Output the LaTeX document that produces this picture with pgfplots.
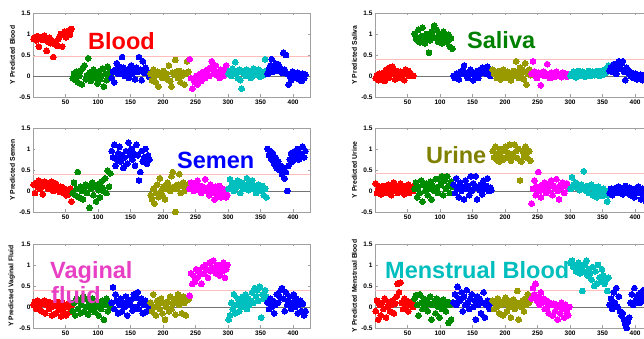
\documentclass[border=0pt]{standalone}
\usepackage{pgfplots}
\pgfplotsset{compat=1.18}
\usepackage{pgfplotstable}
\usepackage{fontspec}
\setmainfont{Liberation Sans}
\definecolor{cR}{RGB}{255,0,0}
\definecolor{cG}{RGB}{0,140,0}
\definecolor{cB}{RGB}{0,0,255}
\definecolor{cO}{RGB}{153,153,0}
\definecolor{cM}{RGB}{255,0,255}
\definecolor{cC}{RGB}{0,191,191}
\definecolor{tG}{RGB}{0,128,0}
\definecolor{tO}{RGB}{128,128,0}
\definecolor{tM}{RGB}{232,64,196}
\definecolor{tC}{RGB}{0,190,190}
\definecolor{thr}{RGB}{255,190,190}
\definecolor{frame}{RGB}{160,160,160}

\pgfplotstableread{
r g b o m c bb
0.88 -0.05 -0.05 0.05 0.40 0.05 0.05
0.92 0.05 0.10 -0.10 -0.05 0.12 0.15
0.85 -0.10 -0.15 0.15 -0.30 0.00 0.25
0.95 0.10 0.15 0.00 -0.10 0.18 0.40
0.70 -0.15 0.30 -0.15 -0.15 0.10 0.10
0.90 0.00 0.05 0.10 0.00 0.33 0.20
0.93 0.12 0.22 -0.25 -0.20 0.05 0.30
0.86 -0.20 0.12 0.02 -0.08 -0.05 0.12
0.96 0.20 0.45 0.08 0.05 0.15 0.28
0.88 0.25 0.20 -0.05 -0.12 -0.10 0.22
0.60 -0.08 0.00 0.12 0.02 -0.30 0.18
0.82 0.02 0.15 0.00 0.10 0.08 0.08
0.91 0.42 0.08 0.05 -0.05 0.12 0.55
0.78 0.08 -0.05 -0.08 0.08 0.00 0.15
0.85 -0.12 0.18 0.25 0.15 0.15 0.50
0.45 -0.02 0.25 -0.12 0.00 0.05 0.05
0.76 0.15 0.05 -0.25 0.20 0.10 -0.20
0.80 -0.05 0.12 0.08 0.35 -0.05 0.00
0.72 0.05 -0.08 0.03 0.05 0.08 -0.10
0.88 -0.18 0.20 0.38 0.12 0.18 0.10
0.95 0.10 0.10 0.10 0.25 0.02 0.05
1.00 -0.08 0.45 -0.05 0.02 0.12 -0.05
0.70 0.00 0.15 0.12 0.10 0.05 0.00
0.98 0.18 -0.10 -0.15 -0.05 0.15 0.08
1.05 -0.25 0.35 0.00 0.15 -0.02 -0.08
0.92 0.05 0.08 0.08 0.08 0.10 0.02
1.02 -0.10 0.20 -0.20 0.00 0.08 -0.12
1.08 0.22 0.12 0.05 0.12 0.02 0.05
0.98 0.08 0.05 0.35 0.25 0.40 -0.05
1.12 0.00 -0.02 0.10 0.05 0.12 0.03
}\tblood

\pgfplotstableread{
r g b o m c bb
-0.05 1.00 0.00 0.15 0.05 0.00 0.12
0.02 0.90 -0.05 0.05 0.35 0.05 0.20
-0.10 0.85 0.05 0.10 0.10 0.10 0.10
0.05 1.10 0.02 -0.05 0.00 0.02 0.28
-0.08 0.80 -0.08 0.00 -0.05 -0.03 0.15
0.00 0.95 0.10 0.12 0.08 0.08 0.05
0.08 1.15 0.05 -0.08 0.02 0.12 0.22
-0.12 0.88 0.12 0.05 -0.22 0.00 0.35
0.15 0.78 0.25 0.15 0.05 0.05 0.18
0.03 1.00 0.08 0.02 0.10 0.10 0.30
-0.05 0.92 0.00 -0.05 0.00 0.03 0.35
0.20 0.55 -0.05 0.10 0.05 -0.02 0.10
0.10 0.85 0.10 0.00 0.28 0.08 -0.10
0.22 1.05 0.15 0.08 0.02 0.05 0.20
0.05 0.95 0.05 -0.10 -0.05 0.12 0.12
-0.08 1.20 -0.10 0.05 0.08 0.00 0.05
0.12 0.90 0.02 0.12 0.00 0.06 0.00
0.00 1.10 0.08 0.00 0.05 0.10 0.08
-0.05 0.82 0.12 0.35 -0.02 0.02 -0.05
0.10 1.00 -0.05 0.10 0.10 0.08 0.02
0.02 0.95 0.05 -0.05 0.03 0.05 0.05
0.08 0.78 0.15 0.20 0.00 0.12 -0.08
-0.10 1.05 0.20 0.05 0.06 0.00 0.00
0.15 0.88 0.10 0.15 -0.03 0.07 -0.05
0.05 0.92 0.18 -0.08 0.08 0.10 0.03
0.12 0.80 0.05 0.30 0.02 0.03 -0.10
0.00 0.98 0.22 -0.20 0.05 0.15 0.00
0.05 0.70 0.12 0.05 -0.02 0.08 0.02
0.02 0.90 0.00 0.15 0.04 0.12 -0.05
0.00 0.65 0.08 0.02 0.00 0.25 0.00
}\tsaliva

\pgfplotstableread{
r g b o m c bb
0.15 -0.05 0.95 -0.10 0.05 0.05 1.00
-0.05 0.20 0.80 -0.20 0.20 0.28 0.85
0.20 -0.10 1.10 0.05 0.10 0.10 0.95
0.10 0.05 0.60 -0.30 0.00 0.20 0.75
0.25 0.45 0.75 -0.05 0.15 0.00 0.90
0.05 -0.15 0.90 0.15 0.08 0.15 0.65
0.18 0.10 1.05 -0.15 0.25 0.08 0.80
-0.08 0.00 0.70 0.30 0.02 0.25 0.55
0.22 -0.20 0.85 0.00 0.12 0.12 0.70
0.12 0.08 0.55 -0.10 -0.05 -0.05 0.50
0.20 0.15 0.80 0.10 0.10 0.20 0.60
0.05 -0.05 0.95 -0.20 0.05 0.05 0.40
0.15 0.12 0.65 0.05 0.28 0.15 0.55
0.10 -0.40 1.15 0.20 0.00 0.10 0.30
0.22 0.05 0.85 0.12 0.08 0.30 0.45
0.00 0.20 1.00 0.00 -0.10 0.02 0.00
0.12 -0.10 0.75 0.35 0.15 0.18 0.60
0.18 0.10 0.90 0.45 -0.05 0.08 0.75
0.05 -0.25 0.60 0.10 0.05 0.25 0.90
0.08 0.15 1.10 -0.50 -0.20 0.05 0.70
-0.02 0.02 0.85 0.05 0.10 0.12 0.85
0.10 -0.15 0.25 0.15 -0.10 -0.05 0.95
0.02 0.22 0.45 0.40 0.00 0.10 0.80
-0.05 0.08 0.95 -0.05 0.12 0.15 1.00
0.05 0.00 0.70 0.12 -0.15 0.00 0.75
-0.10 0.30 0.80 0.20 0.05 0.08 0.90
0.00 -0.05 1.00 0.00 -0.08 0.12 0.85
-0.08 0.48 0.65 0.08 0.02 -0.10 1.05
0.05 0.10 0.85 0.15 -0.15 0.05 0.80
-0.25 0.42 0.75 0.05 -0.10 -0.15 0.95
}\tsemen

\pgfplotstableread{
r g b o m c bb
0.18 0.05 0.15 0.95 -0.30 0.05 -0.05
-0.05 0.20 -0.05 0.80 0.05 0.33 0.05
0.05 -0.15 0.30 1.05 0.25 0.15 -0.10
0.10 0.10 0.05 0.75 -0.10 0.10 0.02
-0.08 -0.05 -0.15 0.90 0.10 0.20 0.00
0.00 0.25 0.20 0.70 0.45 0.08 0.08
0.12 -0.25 0.00 0.85 0.00 0.12 -0.05
0.05 0.15 0.10 1.00 -0.15 0.02 0.10
-0.05 0.00 -0.20 0.75 0.15 0.15 -0.02
0.08 0.18 0.25 0.95 0.05 0.05 0.05
0.15 -0.10 0.05 1.05 0.20 0.47 -0.08
0.00 0.05 0.12 0.80 -0.05 0.10 0.00
-0.10 0.22 -0.10 0.90 0.10 0.00 0.12
0.05 -0.20 0.35 1.10 0.00 0.12 -0.05
0.20 0.12 0.00 0.72 0.18 -0.05 0.03
0.02 0.00 0.18 0.88 0.25 0.08 0.08
0.10 0.28 0.08 0.85 -0.10 0.15 -0.10
-0.05 0.08 0.35 1.10 0.12 -0.10 0.05
0.05 -0.05 -0.20 0.95 0.05 0.05 0.00
0.18 0.30 0.10 0.78 0.28 0.00 -0.15
0.00 0.15 0.02 1.00 0.00 -0.15 0.06
0.08 0.35 0.15 0.25 -0.20 0.10 -0.05
-0.08 -0.10 -0.08 0.70 0.15 -0.05 0.10
0.12 0.25 0.25 0.95 0.08 0.02 0.00
0.03 0.05 0.05 0.82 0.20 -0.12 -0.20
0.15 0.35 0.12 1.05 -0.05 0.05 0.05
-0.05 0.12 0.30 0.90 0.12 -0.08 -0.08
0.05 -0.05 0.00 0.78 0.18 0.00 0.02
0.10 0.22 0.08 0.95 0.05 -0.25 -0.25
0.00 0.10 0.02 0.72 0.10 -0.10 0.00
}\turine

\pgfplotstableread{
r g b o m c bb
0.05 -0.10 0.10 0.10 0.27 -0.30 0.10
0.12 0.10 0.47 -0.10 0.80 -0.20 -0.05
-0.05 -0.20 -0.05 0.30 0.55 0.10 0.20
0.15 0.20 0.30 0.00 0.75 -0.05 0.00
0.00 -0.05 0.15 -0.20 0.60 0.30 0.15
0.10 0.15 -0.15 0.15 0.90 -0.15 -0.15
-0.10 -0.15 0.05 0.05 0.70 0.05 0.05
0.08 0.05 0.20 -0.05 0.85 0.20 0.30
0.15 0.25 -0.10 0.20 0.78 -0.10 0.10
-0.15 -0.10 0.10 -0.15 0.55 0.15 0.25
0.05 0.00 0.00 0.10 0.95 0.00 0.40
0.12 0.18 0.25 -0.30 0.80 0.25 0.45
-0.05 -0.18 -0.20 0.00 1.00 0.10 0.20
0.10 0.08 0.12 0.12 0.88 0.30 -0.10
-0.20 -0.05 0.05 -0.10 0.70 -0.05 0.35
0.02 0.20 0.18 0.25 1.05 0.20 0.05
0.08 0.00 -0.08 -0.05 0.85 0.05 0.15
-0.15 -0.12 0.30 0.08 0.95 0.15 0.25
0.12 0.12 0.00 0.18 1.10 0.35 -0.05
-0.08 0.02 0.22 -0.18 0.90 0.10 0.10
0.00 -0.20 0.35 0.15 0.80 0.45 0.30
-0.22 0.10 -0.05 0.30 1.00 0.25 0.00
0.10 -0.05 0.10 0.05 0.92 0.40 0.20
-0.10 0.15 0.20 0.20 0.75 0.15 -0.15
0.05 -0.30 -0.15 -0.15 0.95 0.48 0.05
-0.20 0.05 0.05 0.25 0.85 -0.25 0.15
0.00 0.20 0.15 0.10 1.05 0.30 -0.10
0.08 -0.10 -0.10 -0.20 0.70 0.20 0.08
-0.12 0.08 0.08 0.22 0.90 0.40 -0.20
0.02 0.00 0.02 0.18 1.00 0.25 -0.10
}\tvaginal

\pgfplotstableread{
r g b o m c bb
-0.10 0.20 0.10 0.15 0.20 1.05 0.05
0.15 0.28 0.30 -0.05 0.45 1.10 0.20
-0.30 0.05 0.05 0.10 0.30 0.95 -0.05
0.05 -0.20 0.48 0.00 0.55 1.00 0.35
-0.20 0.30 0.20 0.20 0.15 0.85 0.10
0.10 0.10 0.15 -0.15 0.25 0.90 0.45
-0.05 -0.05 0.35 0.05 0.05 1.05 0.00
0.20 0.20 -0.10 0.12 0.35 0.80 0.25
-0.25 0.00 0.25 -0.20 0.10 0.95 -0.10
0.00 0.15 0.05 0.08 0.20 0.38 -0.20
0.12 -0.10 0.40 0.22 -0.05 0.85 -0.15
-0.10 0.08 0.10 -0.10 0.15 1.00 -0.30
0.05 0.25 -0.05 0.15 0.00 1.10 -0.40
0.15 -0.30 0.20 0.00 -0.15 0.75 -0.50
-0.15 0.05 0.30 -0.25 0.10 0.90 -0.35
0.08 0.12 0.00 0.10 0.05 0.80 -0.25
0.25 -0.15 0.15 0.18 -0.20 0.65 0.10
0.55 0.20 -0.30 -0.05 0.08 0.95 0.30
0.35 0.00 0.25 0.05 -0.10 0.50 0.05
0.58 -0.25 0.05 0.38 0.05 0.85 0.45
0.10 0.10 0.20 -0.30 -0.30 0.55 0.15
-0.05 -0.05 -0.15 0.10 0.00 1.00 0.20
0.20 0.18 0.10 0.00 -0.15 0.70 0.30
0.00 0.02 0.35 0.15 0.10 0.60 0.10
0.15 -0.10 -0.25 -0.10 -0.05 0.90 0.35
-0.10 0.12 0.05 0.20 -0.25 0.75 0.20
0.08 -0.38 0.15 0.05 0.05 0.55 0.40
0.05 0.05 0.00 0.30 -0.10 0.65 0.15
0.12 -0.30 -0.05 0.10 -0.20 0.38 0.25
0.00 0.10 0.10 0.25 0.00 0.70 0.30
}\tmenstrual

\pgfplotsset{
  panel/.style={
    scale only axis, width=277pt, height=84pt, anchor=south west,
    xmin=0, xmax=426, ymin=-0.5, ymax=1.5,
    xtick={50,100,...,400}, ytick={-0.5,0,0.5,1,1.5},
    /pgf/number format/assume math mode=true,
    tick label style={font=\fontsize{6.5}{7}\selectfont\bfseries},
    ylabel style={font=\fontsize{6.8}{7}\selectfont\bfseries, yshift=-2.5pt},
    axis line style={draw=frame, line width=0.5pt},
    tick style={draw=frame, line width=0.4pt},
    major tick length=2.5pt, tick align=inside,
    xticklabel style={yshift=1pt},
    yticklabel style={xshift=1pt},
  },
  pts/.style={only marks, mark=*, mark size=2.9pt, mark options={line width=0pt}},
}

\newcommand\panel[5]{%
\begin{axis}[panel, at={(#1,#2)}, ylabel={#4}]
\addplot[thr, line width=0.6pt, no marks] coordinates {(0,#5) (426,#5)};
\addplot[pts, color=cR] table[x expr=\coordindex*2+1, y=r] {#3};
\addplot[pts, color=cG] table[x expr=\coordindex*2+61, y=g] {#3};
\addplot[pts, color=cB] table[x expr=\coordindex*2+121, y=b] {#3};
\addplot[pts, color=cO] table[x expr=\coordindex*2+181, y=o] {#3};
\addplot[pts, color=cM] table[x expr=\coordindex*2+241, y=m] {#3};
\addplot[pts, color=cC] table[x expr=\coordindex*2+301, y=c] {#3};
\addplot[pts, color=cB] table[x expr=\coordindex*2+361, y=bb] {#3};
\addplot[black!55, line width=0.5pt, no marks] coordinates {(0,0) (426,0)};
\end{axis}}

\begin{document}
\begin{tikzpicture}
\useasboundingbox (0,0) rectangle (644pt,339pt);
\clip (0,0) rectangle (644pt,339pt);
\panel{33pt}{242pt}{\tblood}{Y Predicted Blood}{0.46}
\panel{375pt}{242pt}{\tsaliva}{Y Predicted Saliva}{0.39}
\panel{33pt}{127pt}{\tsemen}{Y Predicted Semen}{0.39}
\panel{375pt}{127pt}{\turine}{Y Predicted Urine}{0.43}
\panel{33pt}{11pt}{\tvaginal}{Y Predicted Vaginal Fluid}{0.40}
\panel{375pt}{11pt}{\tmenstrual}{Y Predicted Menstrual Blood}{0.40}
\begin{scope}[every node/.style={inner sep=0pt, anchor=base west, font=\fontsize{23.5}{25}\selectfont\bfseries}]
\node[text=cR] at (88pt,289pt) {Blood};
\node[text=tG] at (467pt,290.5pt) {Saliva};
\node[text=cB] at (177pt,170.5pt) {Semen};
\node[text=tO] at (426pt,175.5pt) {Urine};
\node[text=tM] at (50pt,60.5pt) {Vaginal};
\node[text=tM] at (51pt,35.5pt) {fluid};
\node[text=tC] at (385pt,60pt) {Menstrual Blood};
\end{scope}
\end{tikzpicture}
\end{document}
